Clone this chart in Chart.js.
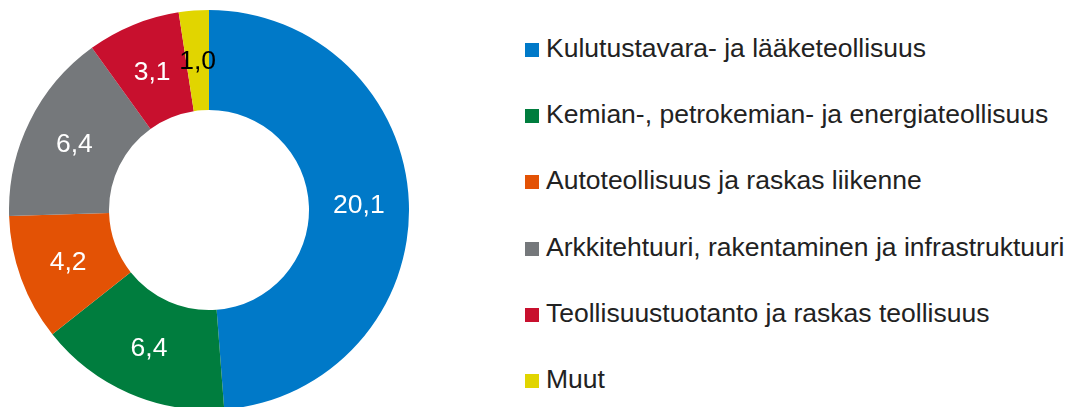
<!DOCTYPE html>
<html lang="fi">
<head>
<meta charset="utf-8">
<title>Toimialat</title>
<script src="https://cdn.jsdelivr.net/npm/chart.js@4/dist/chart.umd.min.js"></script>
<style>
  html, body { margin: 0; padding: 0; background: #fff; }
  body { width: 1069px; height: 407px; overflow: hidden; position: relative;
         font-family: 'Liberation Sans', Arial, sans-serif; }
  #pie { position: absolute; left: 9px; top: 10px; width: 400px; height: 400px; }
  #legend { position: absolute; left: 525px; top: 17px; margin: 0; padding: 0; list-style: none; }
  #legend li { display: flex; align-items: center; height: 66.2px; }
  #legend .box { width: 14px; height: 14px; margin-right: 7px; flex: none; }
  #legend .txt { font-size: 26.5px; color: #222; white-space: nowrap; position: relative; top: -1.5px; }
</style>
</head>
<body>
<div id="pie"><canvas id="c"></canvas></div>
<ul id="legend"></ul>
<script>
// Toimialat (osuudet), luvut kuvasta
const labels = [
  'Kulutustavara- ja lääketeollisuus',
  'Kemian-, petrokemian- ja energiateollisuus',
  'Autoteollisuus ja raskas liikenne',
  'Arkkitehtuuri, rakentaminen ja infrastruktuuri',
  'Teollisuustuotanto ja raskas teollisuus',
  'Muut',
];
const values = [20.1, 6.4, 4.2, 6.4, 3.1, 1.0];
const colors = ['#0079C8', '#007D3E', '#E35205', '#75787B', '#C8102E', '#E1D500'];
const labelColors = ['#fff', '#fff', '#fff', '#fff', '#fff', '#000'];

const fmt = (v) => v.toFixed(1).replace('.', ',');

// value labels at each slice's centroid
const sliceLabels = {
  id: 'sliceLabels',
  afterDatasetsDraw(chart) {
    const { ctx } = chart;
    const meta = chart.getDatasetMeta(0);
    ctx.save();
    ctx.font = '26.5px "Liberation Sans", Arial, sans-serif';
    ctx.textAlign = 'center';
    ctx.textBaseline = 'middle';
    meta.data.forEach((arc, i) => {
      const p = arc.tooltipPosition();
      ctx.fillStyle = labelColors[i];
      ctx.fillText(fmt(values[i]), p.x, p.y + 1);
    });
    ctx.restore();
  },
};

const chart = new Chart(document.getElementById('c'), {
  type: 'doughnut',
  data: {
    labels,
    datasets: [{ data: values, backgroundColor: colors, borderWidth: 0 }],
  },
  options: {
    responsive: true,
    maintainAspectRatio: false,
    animation: false,
    cutout: '50%',
    layout: { padding: 0 },
    plugins: { legend: { display: false }, tooltip: { enabled: false } },
  },
  plugins: [sliceLabels],
});

// html legend from the chart's own legend items
const ul = document.getElementById('legend');
chart.options.plugins.legend.labels.generateLabels(chart).forEach(item => {
  const li = document.createElement('li');
  const box = document.createElement('span');
  box.className = 'box';
  box.style.background = item.fillStyle;
  const txt = document.createElement('span');
  txt.className = 'txt';
  txt.textContent = item.text;
  li.append(box, txt);
  ul.appendChild(li);
});
</script>
</body>
</html>
